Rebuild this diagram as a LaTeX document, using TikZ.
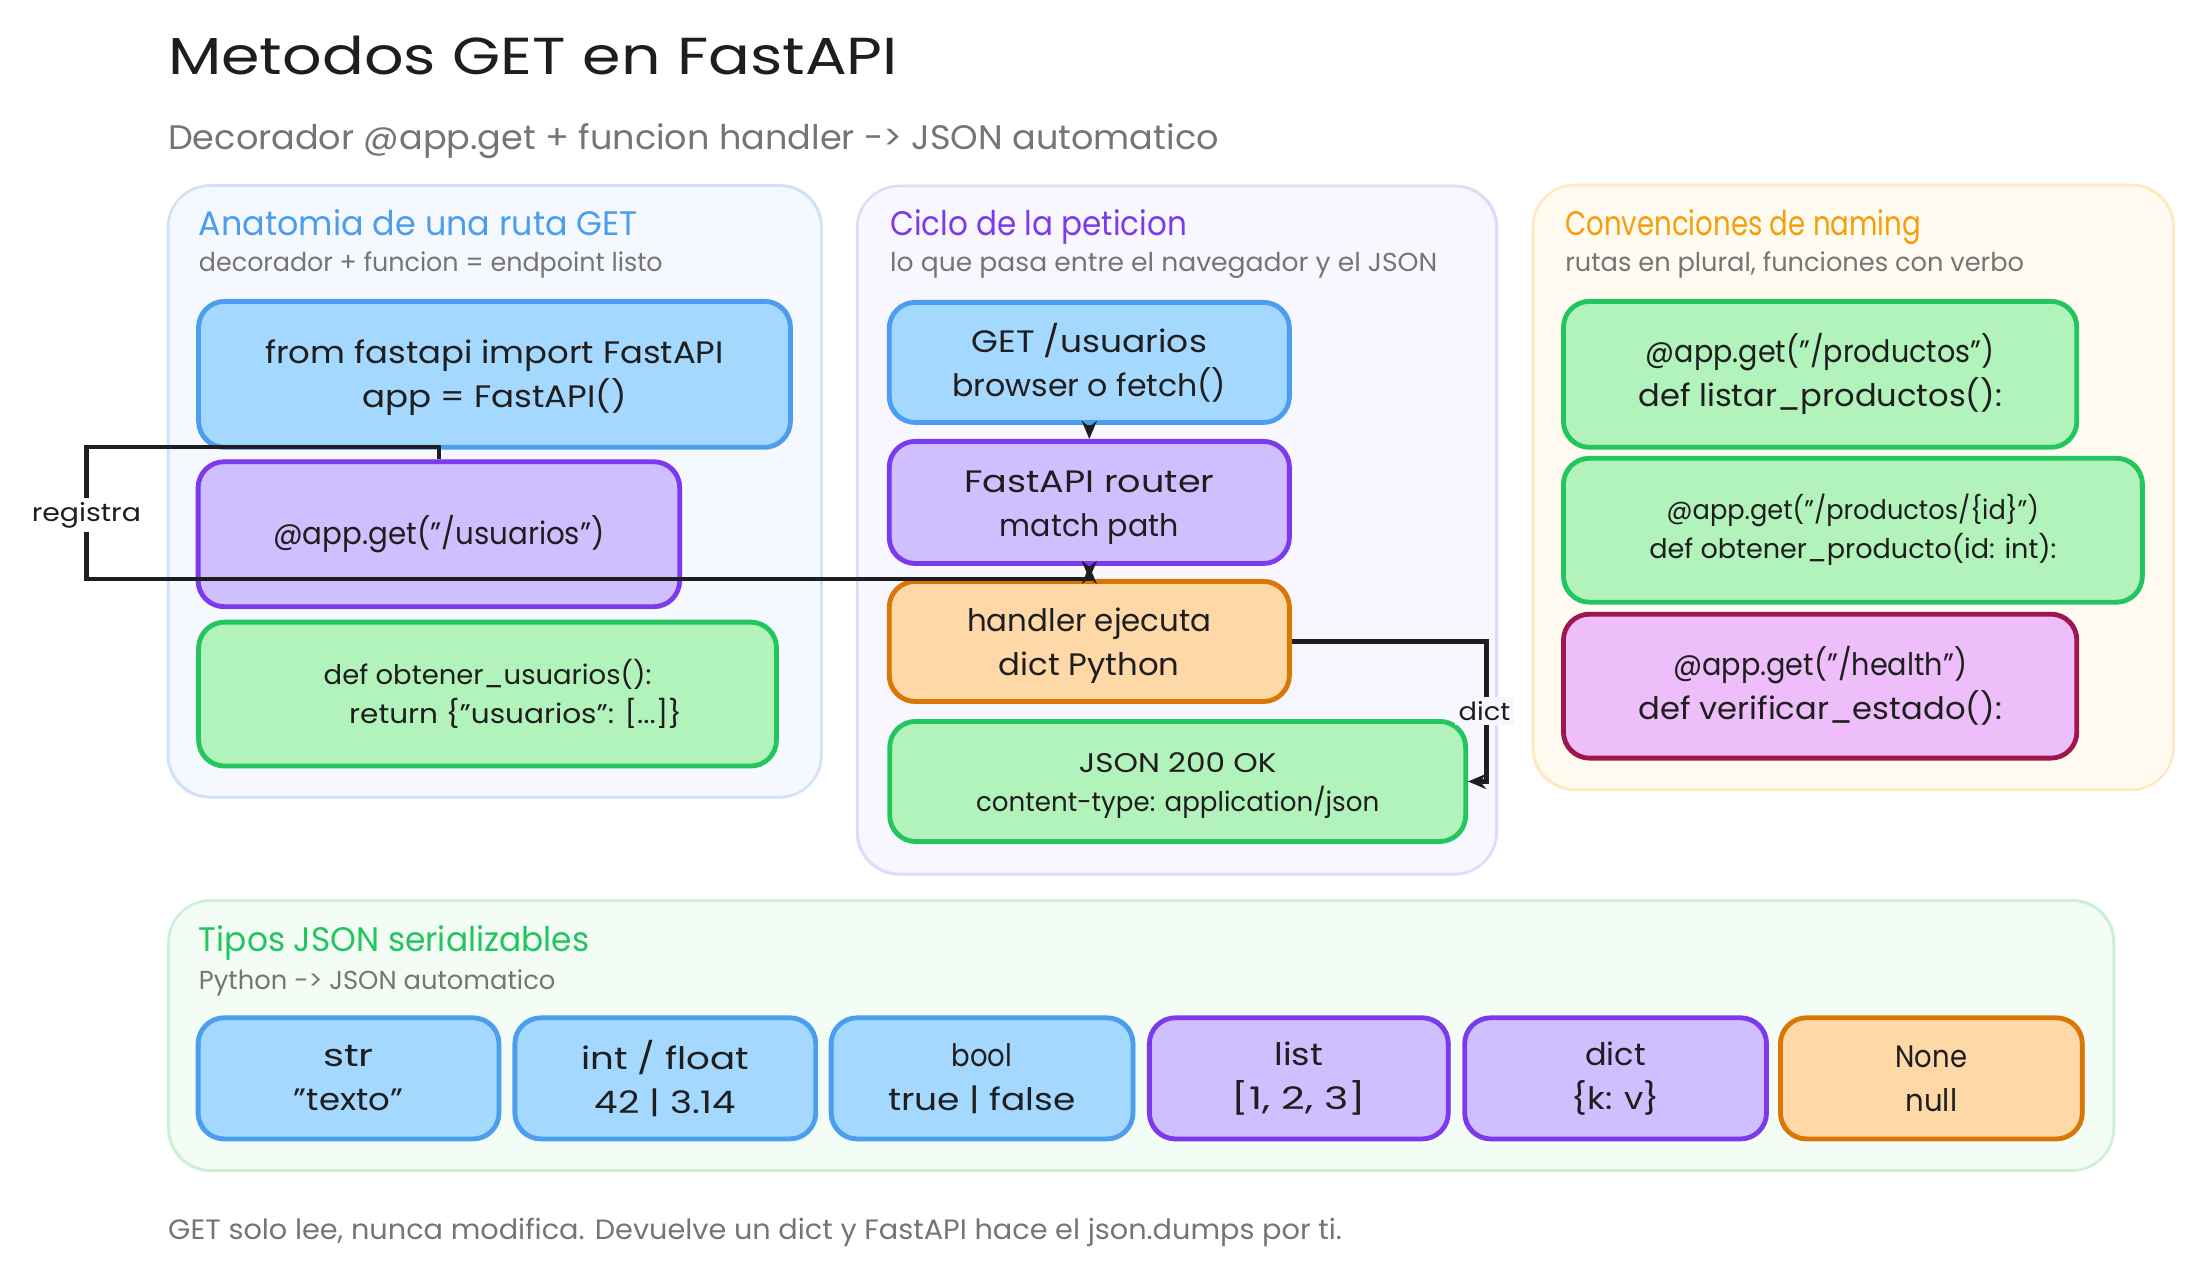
\documentclass[tikz,border=0pt]{standalone}
\usepackage{fontspec}
\usepackage{graphicx}
\setmainfont{Poppins}
\usetikzlibrary{arrows.meta}
\definecolor{ink}{HTML}{1E1E1E}
\definecolor{gris}{HTML}{757575}
\definecolor{blueS}{HTML}{4A9EED}\definecolor{blueF}{HTML}{A5D8FF}
\definecolor{purpS}{HTML}{7C3AED}\definecolor{purpF}{HTML}{D0BFFF}
\definecolor{greeS}{HTML}{22C55E}\definecolor{greeF}{HTML}{B2F2BB}
\definecolor{oranS}{HTML}{D97706}\definecolor{oranF}{HTML}{FFD8A8}
\definecolor{magS}{HTML}{9D174D}\definecolor{magF}{HTML}{EEBEFA}
\definecolor{amber}{HTML}{F59E0B}
\definecolor{p1F}{HTML}{F5F8FF}\definecolor{p1S}{HTML}{CFE2F9}
\definecolor{p2F}{HTML}{F8F6FF}\definecolor{p2S}{HTML}{E2D8F9}
\definecolor{p3F}{HTML}{FFFBF0}\definecolor{p3S}{HTML}{FFE9C2}
\definecolor{p4F}{HTML}{F3FCF5}\definecolor{p4S}{HTML}{CBF0D6}
\newcommand\ft[2]{\resizebox{\dimexpr #1pt*4965/10000\relax}{\height}{#2}}
\newcommand\pad[1]{\rule{0pt}{#1}}
\tikzset{
  boxsize/.style 2 args={minimum width=#1*0.4965pt,minimum height=#2*0.4965pt},
  rough/.style={postaction={draw,line width=#1,transform canvas={shift={(0.6pt,0.5pt)}}}},
  panel/.style 2 args={draw=#2,fill=#1,line width=1.2pt,rounded corners=21pt,inner sep=0pt,rough=0.5pt},
  bx/.style 2 args={draw=#2,fill=#1,line width=2.4pt,rounded corners=13pt,inner sep=0pt,text=ink,align=center,
     font=\fontsize{15.5}{22}\selectfont,rough=0.8pt},
  sm/.style={font=\fontsize{13.5}{19.5}\selectfont},
  free/.style={anchor=base west,inner sep=0pt},
  ttl/.style={free,font=\fontsize{17}{20}\selectfont},
  subt/.style={free,text=gris,font=\fontsize{13}{16}\selectfont},
  conn/.style={draw=ink,line width=2.2pt,-{Stealth[length=9pt,width=7.5pt]}},
  lab/.style={inner sep=2pt,text=ink,font=\fontsize{12.5}{15}\selectfont},
}
\begin{document}
\begin{tikzpicture}[x=0.4965pt,y=-0.4965pt]
\useasboundingbox[fill=white] (0,0) rectangle (2208.5,1276);
% heading
\node[free,text=ink,font=\fontsize{26}{30}\selectfont] (title) at (169,75) {\ft{735}{Metodos GET en FastAPI}};
\node[free,text=gris,font=\fontsize{17}{20}\selectfont] (subtitle) at (169,151) {\ft{1058}{Decorador @app.get + funcion handler -> JSON automatico}};
% panels
\node[panel={p1F}{p1S},boxsize={658}{616}] (panelA) at (498,495) {};
\node[panel={p2F}{p2S},boxsize={644}{693}] (panelB) at (1185,534) {};
\node[panel={p3F}{p3S},boxsize={645}{609}] (panelC) at (1866,491) {};
\node[panel={p4F}{p4S},boxsize={1959}{272}] (panelD) at (1149,1043) {};
% panel headings
\node[ttl,text=blueS] (tA) at (200,237) {\ft{442}{Anatomia de una ruta GET}};
\node[subt] (sA) at (200,273) {\ft{467}{decorador + funcion = endpoint listo}};
\node[ttl,text=purpS] (tB) at (896,237) {\ft{299}{Ciclo de la peticion}};
\node[subt] (sB) at (896,273) {\ft{551}{lo que pasa entre el navegador y el JSON}};
\node[ttl,text=amber] (tC) at (1576,237) {\ft{358}{Convenciones de naming}};
\node[subt] (sC) at (1576,273) {\ft{462}{rutas en plural, funciones con verbo}};
\node[ttl,text=greeS] (tD) at (200,958) {\ft{393}{Tipos JSON serializables}};
\node[subt] (sD) at (200,996) {\ft{359}{Python -> JSON automatico}};
% panel A
\node[bx={blueF}{blueS},boxsize={596}{147}] (imp) at (498,377) {\pad{15pt}\ft{462}{from fastapi import FastAPI}\\\ft{266}{app = FastAPI()}};
\node[bx={purpF}{purpS},boxsize={485}{146}] (deco) at (442,538) {\ft{334}{@app.get("/usuarios")}};
\node[bx={greeF}{greeS},boxsize={582}{145},sm] (func) at (491,699) {\ft{330}{def obtener\_usuarios():}\\\hspace*{28pt}\ft{335}{return \{"usuarios": [...]\}}};
% panel B
\node[bx={blueF}{blueS},boxsize={403}{121}] (req) at (1097,365) {\ft{237}{GET /usuarios}\\\ft{276}{browser o fetch()}};
\node[bx={purpF}{purpS},boxsize={403}{123}] (router) at (1097,506) {\pad{16pt}\ft{252}{FastAPI router}\\\ft{180}{match path}};
\node[bx={oranF}{oranS},boxsize={403}{121}] (handler) at (1097,646) {\pad{16pt}\ft{246}{handler ejecuta}\\\ft{182}{dict Python}};
\node[bx={greeF}{greeS},boxsize={580}{121},sm] (json) at (1186,787) {\pad{14pt}\ft{199}{JSON 200 OK}\\\ft{406}{content-type: application/json}};
% panel C
\node[bx={greeF}{greeS},boxsize={517}{147}] (prods) at (1833,377) {\ft{351}{@app.get("/productos")}\\\ft{366}{def listar\_productos():}};
\node[bx={greeF}{greeS},boxsize={583}{145},sm] (prod) at (1866,534) {\ft{375}{@app.get("/productos/\{id\}")}\\\ft{410}{def obtener\_producto(id: int):}};
\node[bx={magF}{magS},boxsize={517}{145}] (health) at (1833,691) {\ft{296}{@app.get("/health")}\\\ft{366}{def verificar\_estado():}};
% panel D
\node[bx={blueF}{blueS},boxsize={303}{122}] (tstr) at (351,1086) {\ft{51}{str}\\\ft{110}{"texto"}};
\node[bx={blueF}{blueS},boxsize={303}{122}] (tint) at (670,1086) {\ft{169}{int / float}\\\ft{142}{42 | 3.14}};
\node[bx={blueF}{blueS},boxsize={304}{122}] (tbool) at (989,1086) {\ft{61}{bool}\\\ft{189}{true | false}};
\node[bx={purpF}{purpS},boxsize={301}{122}] (tlist) at (1308,1086) {\ft{49}{list}\\\ft{135}{[1, 2, 3]}};
\node[bx={purpF}{purpS},boxsize={304}{122}] (tdict) at (1627,1086) {\ft{61}{dict}\\\ft{89}{\{k: v\}}};
\node[bx={oranF}{oranS},boxsize={304}{122}] (tnone) at (1945,1086) {\ft{72}{None}\\\ft{52}{null}};
% footer
\node[subt,font=\fontsize{14}{16}\selectfont] (foot) at (169,1248) {\ft{1182}{GET solo lee, nunca modifica. Devuelve un dict y FastAPI hace el json.dumps por ti.}};
% connectors
\coordinate (regT) at (87,450);
\coordinate (regB) at (87,583);
\coordinate (dictC) at (1497,720);
\draw[conn] (req.south) -- (router.north);
\draw[conn] (router.south) -- (handler.north);
\draw[conn] (deco.north) |- (regT) -- (regB) -| (router.south);
\draw[conn] (handler.east) -| (dictC) |- (json.east);
\node[lab,fill=white] (lreg) at (87,519) {\ft{110}{registra}};
\node[lab,fill=p2F] (ldict) at (1495,716) {\ft{52}{dict}};
\end{tikzpicture}
\end{document}
